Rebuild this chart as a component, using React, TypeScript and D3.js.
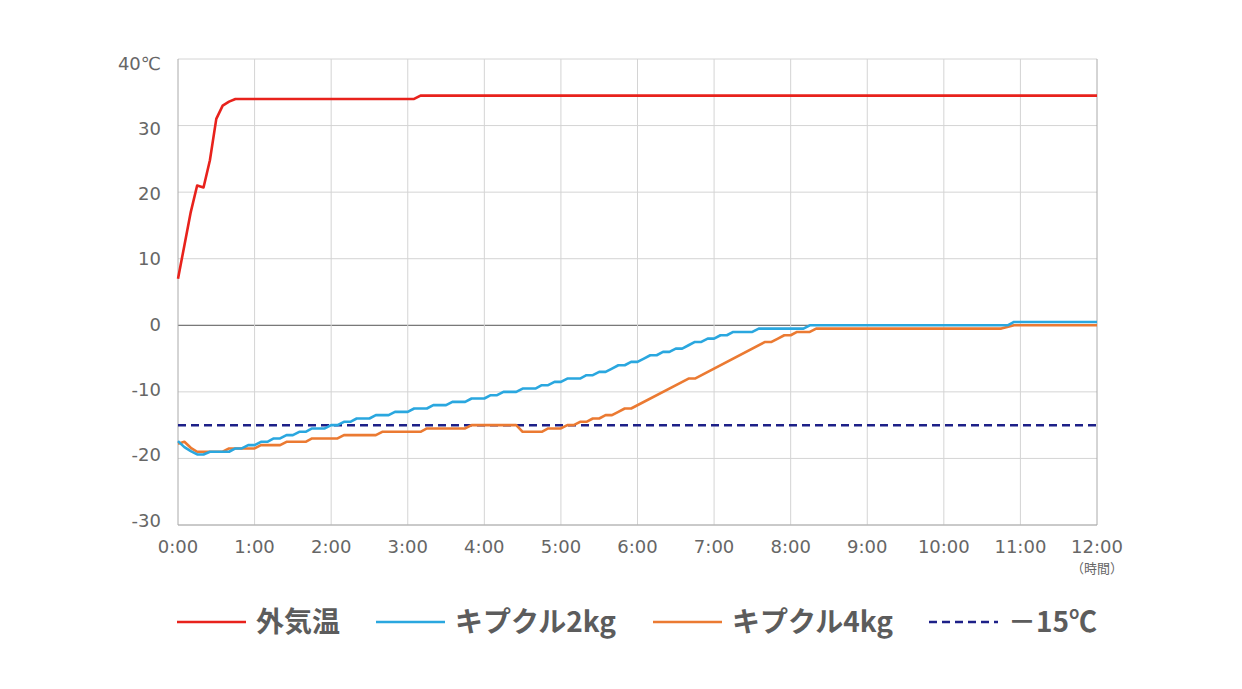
import React, { useEffect, useRef } from 'react';
import * as d3 from 'd3';

// [minutes from 0:00, °C]
const outsideTemp: [number, number][] = [
    [0, 7], [5, 12], [10, 17], [15, 21], [20, 20.7], [25, 24.8], [30, 31],
    [35, 33], [40, 33.6], [45, 34], [185, 34], [190, 34.5], [720, 34.5],
];

const kipukuru2kg: [number, number][] = [
    [0, -17.4], [5, -18.3], [10, -18.9], [15, -19.4], [20, -19.4], [25, -19],
    [40, -19], [45, -18.5], [50, -18.5], [55, -18], [60, -18], [65, -17.5],
    [70, -17.5], [75, -17], [80, -17], [85, -16.5], [90, -16.5], [95, -16],
    [100, -16], [105, -15.5], [115, -15.5], [120, -15], [125, -15], [130, -14.5],
    [135, -14.5], [140, -14], [150, -14], [155, -13.5], [165, -13.5], [170, -13],
    [180, -13], [185, -12.5], [195, -12.5], [200, -12], [210, -12], [215, -11.5],
    [225, -11.5], [230, -11], [240, -11], [245, -10.5], [250, -10.5], [255, -10],
    [265, -10], [270, -9.5], [280, -9.5], [285, -9], [290, -9], [295, -8.5],
    [300, -8.5], [305, -8], [315, -8], [320, -7.5], [325, -7.5], [330, -7],
    [335, -7], [340, -6.5], [345, -6], [350, -6], [355, -5.5], [360, -5.5],
    [365, -5], [370, -4.5], [375, -4.5], [380, -4], [385, -4], [390, -3.5],
    [395, -3.5], [400, -3], [405, -2.5], [410, -2.5], [415, -2], [420, -2],
    [425, -1.5], [430, -1.5], [435, -1], [450, -1], [455, -0.5], [490, -0.5],
    [495, 0], [650, 0], [655, 0.5], [720, 0.5],
];

const kipukuru4kg: [number, number][] = [
    [0, -17.8], [5, -17.5], [10, -18.4], [15, -19], [35, -19], [40, -18.5],
    [60, -18.5], [65, -18], [80, -18], [85, -17.5], [100, -17.5], [105, -17],
    [125, -17], [130, -16.5], [155, -16.5], [160, -16], [190, -16], [195, -15.5],
    [225, -15.5], [230, -15], [265, -15], [270, -16], [285, -16], [290, -15.5],
    [300, -15.5], [305, -15], [310, -15], [315, -14.5], [320, -14.5], [325, -14],
    [330, -14], [335, -13.5], [340, -13.5], [345, -13], [350, -12.5], [355, -12.5],
    [400, -8], [405, -8], [460, -2.5], [465, -2.5], [470, -2], [475, -1.5],
    [480, -1.5], [485, -1], [495, -1], [500, -0.5], [645, -0.5], [655, 0],
    [720, 0],
];

const thresholdTemp = -15;

const yTicks = [-30, -20, -10, 0, 10, 20, 30, 40];
const xTickHours = [0, 1, 2, 3, 4, 5, 6, 7, 8, 9, 10, 11, 12];

const legendItems = [
    { label: '外気温', color: '#e8221c', dashed: false },
    { label: 'キプクル2kg', color: '#2aa7df', dashed: false },
    { label: 'キプクル4kg', color: '#eb7a32', dashed: false },
    { label: '－15℃', color: '#1d2088', dashed: true },
];

const WIDTH = 1242;
const HEIGHT = 689;

const App: React.FC = () => {
    const svgRef = useRef<SVGSVGElement | null>(null);

    useEffect(() => {
        if (svgRef.current) {
            drawChart();
        }
    }, []);

    const drawChart = () => {
        const svg = d3.select(svgRef.current);
        svg.selectAll('*').remove();

        const x = d3.scaleLinear().domain([0, 720]).range([178, 1097]);
        const y = d3.scaleLinear().domain([-30, 40]).range([525, 59]);
        // the labels in the original sit on a slightly tighter spacing than the grid
        const yLabel = d3.scaleLinear().domain([-30, 40]).range([526.5, 69.5]);

        const grid = svg.append('g');

        // horizontal grid
        grid.selectAll('.hgrid')
            .data(yTicks)
            .enter()
            .append('line')
            .attr('x1', x(0))
            .attr('x2', x(720))
            .attr('y1', (d) => y(d))
            .attr('y2', (d) => y(d))
            .attr('stroke', (d) => (d === 0 ? '#555' : '#d4d4d4'))
            .attr('stroke-width', 1);

        // vertical grid
        grid.selectAll('.vgrid')
            .data(xTickHours)
            .enter()
            .append('line')
            .attr('x1', (d) => x(d * 60))
            .attr('x2', (d) => x(d * 60))
            .attr('y1', y(40))
            .attr('y2', y(-30))
            .attr('stroke', (d) => (d === 0 || d === 12 ? '#aaa' : '#d4d4d4'))
            .attr('stroke-width', 1);

        grid.append('line')
            .attr('x1', x(0))
            .attr('x2', x(720))
            .attr('y1', y(-30))
            .attr('y2', y(-30))
            .attr('stroke', '#aaa');

        // y labels
        svg.append('g')
            .selectAll('text')
            .data(yTicks)
            .enter()
            .append('text')
            .attr('x', 161)
            .attr('y', (d) => yLabel(d))
            .attr('text-anchor', 'end')
            .style('font-family', '"DejaVu Sans", sans-serif')
            .style('font-size', '18px')
            .style('fill', '#666')
            .text((d) => (d === 40 ? '40℃' : String(d)));

        // x labels
        svg.append('g')
            .selectAll('text')
            .data(xTickHours)
            .enter()
            .append('text')
            .attr('x', (d) => x(d * 60))
            .attr('y', 553)
            .attr('text-anchor', 'middle')
            .style('font-family', '"DejaVu Sans", sans-serif')
            .style('font-size', '18px')
            .style('fill', '#666')
            .text((d) => `${d}:00`);

        svg.append('text')
            .attr('x', x(720))
            .attr('y', 573)
            .attr('text-anchor', 'middle')
            .style('font-family', '"Noto Sans CJK JP", sans-serif')
            .style('font-size', '13px')
            .style('fill', '#666')
            .text('（時間）');

        // -15 threshold
        svg.append('line')
            .attr('x1', x(0))
            .attr('x2', x(720))
            .attr('y1', y(thresholdTemp))
            .attr('y2', y(thresholdTemp))
            .attr('stroke', legendItems[3].color)
            .attr('stroke-width', 2.5)
            .attr('stroke-dasharray', '8,5');

        const line = d3
            .line<[number, number]>()
            .x((d) => x(d[0]))
            .y((d) => y(d[1]));

        const series = [kipukuru4kg, kipukuru2kg, outsideTemp];
        const colors = [legendItems[2].color, legendItems[1].color, legendItems[0].color];

        svg.append('g')
            .selectAll('path')
            .data(series)
            .enter()
            .append('path')
            .attr('d', (d) => line(d))
            .attr('fill', 'none')
            .attr('stroke', (d, i) => colors[i])
            .attr('stroke-width', 2.6)
            .attr('stroke-linejoin', 'round');

        // legend
        const legendX = [177, 376, 653, 929];
        const legend = svg
            .append('g')
            .selectAll('.legend')
            .data(legendItems)
            .enter()
            .append('g')
            .attr('transform', (d, i) => `translate(${legendX[i]},622)`);

        legend.append('line')
            .attr('x1', 0)
            .attr('x2', 69)
            .attr('stroke', (d) => d.color)
            .attr('stroke-width', 2.5)
            .attr('stroke-dasharray', (d) => (d.dashed ? '8,5' : null));

        legend.append('text')
            .attr('x', 79)
            .attr('dy', '0.36em')
            .style('font-family', '"Noto Sans CJK JP", sans-serif')
            .style('font-weight', 'bold')
            .style('font-size', '28px')
            .style('fill', '#5c5c5c')
            .text((d) => d.label);
    };

    return (
        <svg
            ref={svgRef}
            width={WIDTH}
            height={HEIGHT}
            style={{ position: 'absolute', left: 0, top: 0, background: '#fff' }}
        ></svg>
    );
};

export default App;
